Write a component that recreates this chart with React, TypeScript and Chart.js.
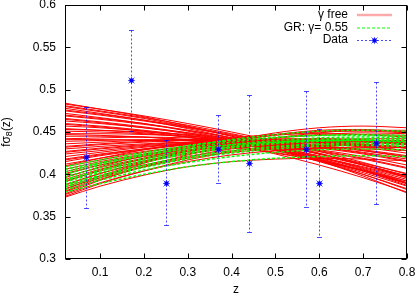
import React, { useEffect, useRef } from 'react';
import { Chart, registerables } from 'chart.js';
Chart.register(...registerables);

const zGrid = [0.02, 0.1, 0.2, 0.3, 0.4, 0.5, 0.6, 0.7, 0.8];

// "γ free" model curves (values of fσ8 at zGrid)
const gammaFree: number[][] = [
  [0.373, 0.386, 0.399, 0.409, 0.415, 0.418, 0.419, 0.418, 0.416],
  [0.374, 0.389, 0.404, 0.417, 0.427, 0.434, 0.438, 0.440, 0.440],
  [0.376, 0.390, 0.404, 0.415, 0.423, 0.428, 0.431, 0.432, 0.432],
  [0.377, 0.393, 0.409, 0.423, 0.434, 0.443, 0.449, 0.452, 0.452],
  [0.379, 0.394, 0.409, 0.421, 0.430, 0.436, 0.440, 0.442, 0.442],
  [0.380, 0.396, 0.413, 0.428, 0.440, 0.449, 0.455, 0.457, 0.455],
  [0.382, 0.398, 0.414, 0.428, 0.439, 0.447, 0.452, 0.453, 0.450],
  [0.383, 0.396, 0.409, 0.419, 0.426, 0.430, 0.431, 0.430, 0.428],
  [0.385, 0.398, 0.411, 0.421, 0.428, 0.432, 0.434, 0.434, 0.433],
  [0.387, 0.401, 0.415, 0.427, 0.436, 0.443, 0.447, 0.449, 0.448],
  [0.388, 0.401, 0.414, 0.424, 0.431, 0.436, 0.438, 0.438, 0.437],
  [0.391, 0.405, 0.419, 0.431, 0.440, 0.446, 0.450, 0.451, 0.449],
  [0.392, 0.404, 0.416, 0.425, 0.431, 0.434, 0.435, 0.434, 0.431],
  [0.394, 0.406, 0.418, 0.427, 0.433, 0.437, 0.439, 0.439, 0.437],
  [0.396, 0.409, 0.422, 0.433, 0.441, 0.447, 0.451, 0.452, 0.450],
  [0.397, 0.408, 0.419, 0.428, 0.434, 0.438, 0.440, 0.440, 0.438],
  [0.400, 0.411, 0.422, 0.431, 0.438, 0.443, 0.446, 0.447, 0.446],
  [0.401, 0.411, 0.421, 0.429, 0.434, 0.437, 0.437, 0.435, 0.431],
  [0.403, 0.413, 0.423, 0.431, 0.436, 0.439, 0.440, 0.439, 0.436],
  [0.406, 0.415, 0.424, 0.431, 0.436, 0.439, 0.440, 0.438, 0.435],
  [0.409, 0.417, 0.426, 0.433, 0.438, 0.441, 0.442, 0.441, 0.438],
  [0.410, 0.419, 0.429, 0.437, 0.443, 0.447, 0.448, 0.447, 0.444],
  [0.412, 0.419, 0.427, 0.433, 0.437, 0.439, 0.438, 0.435, 0.431],
  [0.415, 0.422, 0.429, 0.435, 0.439, 0.441, 0.441, 0.439, 0.435],
  [0.417, 0.423, 0.430, 0.436, 0.440, 0.442, 0.442, 0.440, 0.436],
  [0.418, 0.424, 0.430, 0.435, 0.438, 0.439, 0.437, 0.433, 0.428],
  [0.421, 0.426, 0.432, 0.436, 0.439, 0.440, 0.439, 0.436, 0.432],
  [0.424, 0.428, 0.433, 0.436, 0.437, 0.436, 0.433, 0.428, 0.421],
  [0.426, 0.430, 0.434, 0.437, 0.438, 0.437, 0.434, 0.429, 0.422],
  [0.427, 0.431, 0.435, 0.438, 0.440, 0.440, 0.438, 0.434, 0.428],
  [0.430, 0.433, 0.436, 0.438, 0.438, 0.436, 0.432, 0.426, 0.418],
  [0.432, 0.435, 0.438, 0.440, 0.440, 0.438, 0.434, 0.428, 0.420],
  [0.433, 0.436, 0.439, 0.441, 0.441, 0.440, 0.437, 0.432, 0.425],
  [0.436, 0.438, 0.440, 0.440, 0.439, 0.436, 0.431, 0.424, 0.415],
  [0.439, 0.440, 0.441, 0.441, 0.439, 0.435, 0.429, 0.421, 0.411],
  [0.441, 0.441, 0.440, 0.437, 0.432, 0.425, 0.416, 0.405, 0.392],
  [0.442, 0.443, 0.444, 0.443, 0.441, 0.437, 0.432, 0.425, 0.416],
  [0.445, 0.445, 0.444, 0.441, 0.436, 0.429, 0.420, 0.409, 0.396],
  [0.447, 0.446, 0.444, 0.440, 0.434, 0.426, 0.416, 0.404, 0.390],
  [0.448, 0.448, 0.447, 0.445, 0.441, 0.435, 0.427, 0.418, 0.407],
  [0.451, 0.450, 0.448, 0.444, 0.438, 0.430, 0.420, 0.408, 0.394],
  [0.453, 0.452, 0.450, 0.447, 0.442, 0.436, 0.428, 0.419, 0.408],
  [0.454, 0.452, 0.449, 0.444, 0.437, 0.428, 0.417, 0.404, 0.389],
  [0.457, 0.455, 0.451, 0.446, 0.440, 0.432, 0.422, 0.411, 0.398],
  [0.459, 0.456, 0.451, 0.444, 0.435, 0.424, 0.411, 0.396, 0.379],
  [0.460, 0.457, 0.452, 0.446, 0.438, 0.428, 0.416, 0.402, 0.386],
  [0.463, 0.460, 0.455, 0.449, 0.442, 0.434, 0.424, 0.413, 0.401],
  [0.465, 0.461, 0.455, 0.448, 0.439, 0.429, 0.417, 0.404, 0.389],
  [0.466, 0.462, 0.456, 0.449, 0.440, 0.430, 0.418, 0.405, 0.390],
  [0.469, 0.465, 0.459, 0.452, 0.443, 0.433, 0.421, 0.407, 0.392],
  [0.470, 0.466, 0.460, 0.452, 0.443, 0.432, 0.420, 0.406, 0.390],
  [0.472, 0.467, 0.460, 0.451, 0.441, 0.429, 0.415, 0.400, 0.383],
  [0.475, 0.470, 0.463, 0.455, 0.446, 0.436, 0.424, 0.411, 0.397],
  [0.476, 0.471, 0.464, 0.456, 0.447, 0.436, 0.424, 0.411, 0.396],
  [0.478, 0.472, 0.464, 0.454, 0.443, 0.430, 0.416, 0.400, 0.382],
  [0.480, 0.474, 0.466, 0.456, 0.445, 0.433, 0.419, 0.404, 0.387],
  [0.481, 0.475, 0.467, 0.458, 0.448, 0.437, 0.425, 0.412, 0.398],
  [0.483, 0.477, 0.469, 0.460, 0.450, 0.439, 0.427, 0.414, 0.400],
  [0.484, 0.477, 0.468, 0.457, 0.445, 0.431, 0.416, 0.398, 0.378],
];

// "GR: γ = 0.55" model curves
const grCurves: number[][] = [
  [0.379, 0.389, 0.400, 0.409, 0.415, 0.419, 0.421, 0.422, 0.421],
  [0.382, 0.393, 0.405, 0.414, 0.421, 0.426, 0.429, 0.430, 0.429],
  [0.385, 0.396, 0.408, 0.418, 0.425, 0.430, 0.433, 0.434, 0.433],
  [0.387, 0.398, 0.410, 0.420, 0.427, 0.432, 0.435, 0.436, 0.435],
  [0.388, 0.399, 0.411, 0.421, 0.428, 0.433, 0.436, 0.437, 0.436],
  [0.391, 0.402, 0.414, 0.424, 0.431, 0.436, 0.439, 0.440, 0.439],
  [0.393, 0.404, 0.416, 0.425, 0.432, 0.437, 0.440, 0.441, 0.440],
  [0.394, 0.405, 0.417, 0.426, 0.433, 0.438, 0.441, 0.442, 0.441],
  [0.397, 0.408, 0.419, 0.428, 0.435, 0.440, 0.443, 0.444, 0.443],
  [0.400, 0.411, 0.422, 0.431, 0.438, 0.443, 0.446, 0.447, 0.446],
  [0.403, 0.413, 0.424, 0.433, 0.441, 0.447, 0.451, 0.452, 0.451],
  [0.406, 0.414, 0.423, 0.430, 0.435, 0.438, 0.440, 0.440, 0.438],
  [0.409, 0.417, 0.426, 0.434, 0.440, 0.444, 0.446, 0.446, 0.444],
];

// measurements
const dataZ = [0.067, 0.17, 0.25, 0.37, 0.44, 0.57, 0.6, 0.73];
const dataF = [0.42, 0.511, 0.39, 0.43, 0.413, 0.43, 0.39, 0.437];
const dataErr = [0.06, 0.06, 0.05, 0.04, 0.081, 0.069, 0.064, 0.072];

const xTicks = [0.1, 0.2, 0.3, 0.4, 0.5, 0.6, 0.7, 0.8];
const yTicks = [0.3, 0.35, 0.4, 0.45, 0.5, 0.55, 0.6];

const legendLabels = ['γ free', 'GR: γ= 0.55', 'Data'];

const FONT = 'Liberation Sans, Arial, Helvetica, sans-serif';
const RED = '#ff0000';
const GREEN = '#00ff00';
const BLUE = '#0000ff';

function makeStar(): HTMLCanvasElement {
  const c = document.createElement('canvas');
  c.width = 7;
  c.height = 7;
  const g = c.getContext('2d')!;
  g.strokeStyle = 'rgba(0,0,255,0.6)';
  g.lineWidth = 1;
  g.beginPath();
  g.moveTo(3.5, 0); g.lineTo(3.5, 7);
  g.moveTo(0, 3.5); g.lineTo(7, 3.5);
  g.moveTo(0.5, 0.5); g.lineTo(6.5, 6.5);
  g.moveTo(6.5, 0.5); g.lineTo(0.5, 6.5);
  g.stroke();
  g.fillStyle = BLUE;
  g.fillRect(1.5, 1.5, 4, 4);
  return c;
}

const fmt = (v: number) => String(Math.round(v * 100) / 100);

export default function App() {
  const ref = useRef<HTMLCanvasElement | null>(null);
  useEffect(() => {
    document.body.style.margin = '0';
    const star = makeStar();
    const decor = {
      id: 'decor',
      afterDatasetsDraw(chart: any) {
        const { ctx, chartArea: a, scales } = chart;
        const xs = scales.x, ys = scales.y;
        ctx.save();
        // error bars
        ctx.strokeStyle = 'rgba(0,0,255,0.7)';
        ctx.lineWidth = 1;
        dataZ.forEach((z, i) => {
          const px = Math.round(xs.getPixelForValue(z)) + 0.5;
          const top = Math.round(ys.getPixelForValue(dataF[i] + dataErr[i])) + 0.5;
          const bot = Math.round(ys.getPixelForValue(dataF[i] - dataErr[i])) + 0.5;
          ctx.setLineDash([2, 2]);
          ctx.beginPath();
          ctx.moveTo(px, top); ctx.lineTo(px, bot);
          ctx.stroke();
          ctx.setLineDash([]);
          ctx.beginPath();
          ctx.moveTo(px - 2.5, top); ctx.lineTo(px + 2.5, top);
          ctx.moveTo(px - 2.5, bot); ctx.lineTo(px + 2.5, bot);
          ctx.stroke();
        });
        dataZ.forEach((z, i) => {
          ctx.drawImage(star, Math.round(xs.getPixelForValue(z)) - 3, Math.round(ys.getPixelForValue(dataF[i])) - 3);
        });
        // frame
        ctx.strokeStyle = '#000';
        ctx.lineWidth = 1;
        const L = Math.round(a.left) + 0.5, R = Math.round(a.right) - 0.5;
        const T = Math.round(a.top) + 0.5, B = Math.round(a.bottom) - 0.5;
        ctx.strokeRect(L, T, R - L, B - T);
        ctx.beginPath();
        xTicks.forEach((v) => {
          const p = Math.round(xs.getPixelForValue(v)) + 0.5;
          ctx.moveTo(p, B); ctx.lineTo(p, B - 5);
          ctx.moveTo(p, T); ctx.lineTo(p, T + 5);
        });
        yTicks.forEach((v) => {
          const p = Math.round(ys.getPixelForValue(v)) + 0.5;
          ctx.moveTo(L, p); ctx.lineTo(L + 5, p);
          ctx.moveTo(R, p); ctx.lineTo(R - 5, p);
        });
        ctx.stroke();
        // legend
        ctx.font = `12px ${FONT}`;
        ctx.fillStyle = '#000';
        ctx.textAlign = 'right';
        ctx.textBaseline = 'middle';
        const rows = [15, 27.5, 40];
        legendLabels.forEach((t, i) => ctx.fillText(t, 348, rows[i]));
        ctx.strokeStyle = '#ffaaaa';
        ctx.lineWidth = 2.5;
        ctx.beginPath(); ctx.moveTo(357, rows[0]); ctx.lineTo(392, rows[0]); ctx.stroke();
        ctx.strokeStyle = GREEN;
        ctx.lineWidth = 1;
        ctx.setLineDash([3, 2]);
        ctx.beginPath(); ctx.moveTo(357, rows[1] + 0.5); ctx.lineTo(392, rows[1] + 0.5); ctx.stroke();
        ctx.strokeStyle = 'rgba(0,0,255,0.7)';
        ctx.setLineDash([2, 2]);
        ctx.beginPath(); ctx.moveTo(357, rows[2] + 0.5); ctx.lineTo(392, rows[2] + 0.5); ctx.stroke();
        ctx.setLineDash([]);
        ctx.drawImage(star, 371, rows[2] - 3);
        // axis titles
        ctx.textAlign = 'center';
        ctx.fillText('z', (a.left + a.right) / 2, 290);
        ctx.translate(7, (a.top + a.bottom) / 2);
        ctx.rotate(-Math.PI / 2);
        ctx.textAlign = 'left';
        const w1 = ctx.measureText('fσ').width;
        ctx.font = `9px ${FONT}`;
        const w2 = ctx.measureText('8').width;
        ctx.font = `12px ${FONT}`;
        const w3 = ctx.measureText('(z)').width;
        let x0 = -(w1 + w2 + w3) / 2;
        ctx.fillText('fσ', x0, 0);
        x0 += w1;
        ctx.font = `9px ${FONT}`;
        ctx.fillText('8', x0, 3);
        x0 += w2;
        ctx.font = `12px ${FONT}`;
        ctx.fillText('(z)', x0, 0);
        ctx.restore();
      },
    };

    const curveDs = (c: number[], color: string, dash: number[], width: number, order: number) => ({
      data: zGrid.map((z, i) => ({ x: z, y: c[i] })),
      borderColor: color,
      borderWidth: width,
      borderDash: dash,
      pointRadius: 0,
      cubicInterpolationMode: 'monotone',
      fill: false,
      order,
    });

    const chart = new Chart(ref.current!, {
      type: 'line',
      data: {
        datasets: [
          ...grCurves.map((c) => curveDs(c, GREEN, [3, 2], 1.5, 1)),
          ...gammaFree.map((c) => curveDs(c, RED, [], 1, 2)),
        ] as any,
      },
      options: {
        animation: false,
        responsive: false,
        devicePixelRatio: 1,
        layout: { padding: { top: 5, right: 8, left: 0, bottom: 0 } },
        plugins: { legend: { display: false }, tooltip: { enabled: false } },
        scales: {
          x: {
            type: 'linear',
            min: 0.02,
            max: 0.8,
            afterBuildTicks: (s: any) => { s.ticks = xTicks.map((v) => ({ value: v })); },
            afterFit: (s: any) => { s.height = 36; s.paddingLeft = 0; s.paddingRight = 0; },
            ticks: { callback: (v: any) => fmt(Number(v)), color: '#000', font: { family: FONT, size: 12 }, padding: 6, maxRotation: 0, autoSkip: false },
            grid: { display: false, drawTicks: false },
            border: { display: false },
          },
          y: {
            type: 'linear',
            min: 0.3,
            max: 0.6,
            afterBuildTicks: (s: any) => { s.ticks = yTicks.map((v) => ({ value: v })); },
            afterFit: (s: any) => { s.width = 65; s.paddingTop = 0; s.paddingBottom = 0; },
            ticks: { callback: (v: any) => fmt(Number(v)), color: '#000', font: { family: FONT, size: 12 }, padding: 9, autoSkip: false },
            grid: { display: false, drawTicks: false },
            border: { display: false },
          },
        },
      },
      plugins: [decor],
    });
    return () => chart.destroy();
  }, []);
  return <canvas ref={ref} width={415} height={295} style={{ display: 'block' }} />;
}
